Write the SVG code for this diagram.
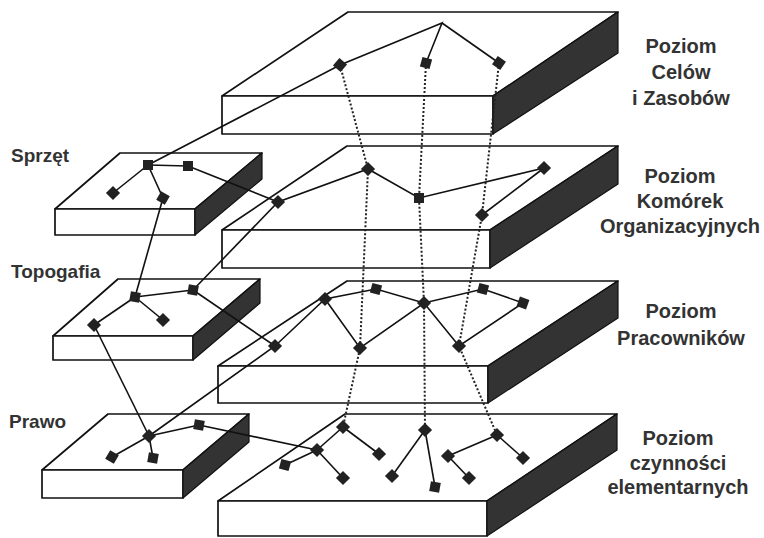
<svg xmlns="http://www.w3.org/2000/svg" width="764" height="538" viewBox="0 0 764 538">
<style>
.top{fill:#fff;stroke:#111;stroke-width:1.7;stroke-linejoin:round}
.side{fill:#333;stroke:#111;stroke-width:1.2;stroke-linejoin:round}
.ln{fill:none;stroke:#111;stroke-width:1.6}
.dot{fill:none;stroke:#222;stroke-width:2;stroke-dasharray:2,2}
.nd{fill:#222}
.lbl{font-family:"Liberation Sans",Arial,sans-serif;font-weight:bold;font-size:20px;fill:#333;text-anchor:middle}
.lbll{font-family:"Liberation Sans",Arial,sans-serif;font-weight:bold;font-size:19px;fill:#333}
</style>
<defs>
<rect id="sq" x="-5" y="-5" width="10" height="10" class="nd"/>
</defs>

<g id="slab-cele">
<polygon class="top" points="348,12 618,12 493,96 222,96"/>
<rect class="top" x="222" y="96" width="271" height="38"/>
<polygon class="side" points="493,96 618,12 618,53 493,134"/>
</g>
<g id="slab-komorki">
<polygon class="top" points="347,146 618,146 490,230 222,230"/>
<rect class="top" x="222" y="230" width="268" height="38"/>
<polygon class="side" points="490,230 618,146 618,184 490,268"/>
</g>
<g id="slab-pracownicy">
<polygon class="top" points="347,281 618,281 488,366 218,366"/>
<rect class="top" x="218" y="366" width="270" height="37"/>
<polygon class="side" points="488,366 618,281 618,318 488,403"/>
</g>
<g id="slab-czynnosci">
<polygon class="top" points="345,414 617,414 487,501 218,501"/>
<rect class="top" x="218" y="501" width="269" height="35"/>
<polygon class="side" points="487,501 617,414 617,450 487,536"/>
</g>
<g id="slab-sprzet">
<polygon class="top" points="120,153 262,153 195,209 55,209"/>
<rect class="top" x="55" y="209" width="140" height="26"/>
<polygon class="side" points="195,209 262,153 262,179 195,235"/>
</g>
<g id="slab-topogafia">
<polygon class="top" points="118,279 260,279 193,336 53,336"/>
<rect class="top" x="53" y="336" width="140" height="24"/>
<polygon class="side" points="193,336 260,279 260,303 193,360"/>
</g>
<g id="slab-prawo">
<polygon class="top" points="108,414 249,414 183,470 42,470"/>
<rect class="top" x="42" y="470" width="141" height="28"/>
<polygon class="side" points="183,470 249,414 249,442 183,498"/>
</g>

<g id="connectors">
<polyline class="ln" points="148,165 340,65 442,23 426,63"/>
<line class="ln" x1="442" y1="23" x2="499" y2="63"/>
<line class="ln" x1="148" y1="165" x2="188" y2="166"/>
<line class="ln" x1="148" y1="165" x2="113" y2="193"/>
<line class="ln" x1="148" y1="165" x2="163" y2="198"/>
<line class="ln" x1="188" y1="166" x2="278" y2="202"/>
<line class="ln" x1="163" y1="198" x2="135" y2="297"/>
<polyline class="ln" points="193,290 278,202 368,169 419,198 544,168 482,215"/>
<line class="ln" x1="135" y1="297" x2="193" y2="290"/>
<line class="ln" x1="135" y1="297" x2="163" y2="320"/>
<line class="ln" x1="135" y1="297" x2="94" y2="325"/>
<line class="ln" x1="193" y1="290" x2="275" y2="346"/>
<line class="ln" x1="94" y1="325" x2="149" y2="436"/>
<polyline class="ln" points="149,436 275,346 325,299 376,289 424,303 483,289 523,303 459,346 424,303 360,348 325,299"/>
<line class="ln" x1="149" y1="436" x2="199" y2="425"/>
<line class="ln" x1="149" y1="436" x2="112" y2="457"/>
<line class="ln" x1="149" y1="436" x2="153" y2="458"/>
<line class="ln" x1="199" y1="425" x2="317" y2="450"/>
<line class="ln" x1="343" y1="427" x2="317" y2="450"/>
<line class="ln" x1="343" y1="427" x2="379" y2="454"/>
<line class="ln" x1="317" y1="450" x2="285" y2="465"/>
<line class="ln" x1="317" y1="450" x2="343" y2="478"/>
<line class="ln" x1="425" y1="430" x2="392" y2="476"/>
<line class="ln" x1="425" y1="430" x2="435" y2="487"/>
<line class="ln" x1="497" y1="435" x2="448" y2="456"/>
<line class="ln" x1="497" y1="435" x2="523" y2="458"/>
<line class="ln" x1="448" y1="456" x2="469" y2="478"/>
<polyline class="dot" points="340,65 368,169 360,348 343,427"/>
<polyline class="dot" points="426,63 419,198 424,303 425,430"/>
<polyline class="dot" points="499,63 482,215 459,346 497,435"/>
</g>

<g id="nodes-cele">
<use href="#sq" transform="translate(340,65) rotate(40)"/>
<use href="#sq" transform="translate(426,63) rotate(15)"/>
<use href="#sq" transform="translate(499,63) rotate(35)"/>
</g>
<g id="nodes-komorki">
<use href="#sq" transform="translate(278,202) rotate(45)"/>
<use href="#sq" transform="translate(368,169) rotate(45)"/>
<use href="#sq" transform="translate(419,198) rotate(0)"/>
<use href="#sq" transform="translate(482,215) rotate(45)"/>
<use href="#sq" transform="translate(544,168) rotate(45)"/>
</g>
<g id="nodes-pracownicy">
<use href="#sq" transform="translate(275,346) rotate(45)"/>
<use href="#sq" transform="translate(325,299) rotate(45)"/>
<use href="#sq" transform="translate(376,289) rotate(15)"/>
<use href="#sq" transform="translate(424,303) rotate(45)"/>
<use href="#sq" transform="translate(483,289) rotate(15)"/>
<use href="#sq" transform="translate(523,303) rotate(20)"/>
<use href="#sq" transform="translate(360,348) rotate(45)"/>
<use href="#sq" transform="translate(459,346) rotate(45)"/>
</g>
<g id="nodes-czynnosci">
<use href="#sq" transform="translate(343,427) rotate(45)"/>
<use href="#sq" transform="translate(317,450) rotate(45)"/>
<use href="#sq" transform="translate(285,465) rotate(15)"/>
<use href="#sq" transform="translate(343,478) rotate(45)"/>
<use href="#sq" transform="translate(379,454) rotate(45)"/>
<use href="#sq" transform="translate(425,430) rotate(45)"/>
<use href="#sq" transform="translate(392,476) rotate(45)"/>
<use href="#sq" transform="translate(435,487) rotate(10)"/>
<use href="#sq" transform="translate(497,435) rotate(45)"/>
<use href="#sq" transform="translate(448,456) rotate(45)"/>
<use href="#sq" transform="translate(469,478) rotate(45)"/>
<use href="#sq" transform="translate(523,458) rotate(45)"/>
</g>
<g id="nodes-sprzet">
<use href="#sq" transform="translate(148,165)"/>
<use href="#sq" transform="translate(188,166)"/>
<use href="#sq" transform="translate(113,193) rotate(45)"/>
<use href="#sq" transform="translate(163,198) rotate(30)"/>
</g>
<g id="nodes-topogafia">
<use href="#sq" transform="translate(135,297) rotate(10)"/>
<use href="#sq" transform="translate(193,290) rotate(10)"/>
<use href="#sq" transform="translate(163,320) rotate(45)"/>
<use href="#sq" transform="translate(94,325) rotate(45)"/>
</g>
<g id="nodes-prawo">
<use href="#sq" transform="translate(149,436) rotate(45)"/>
<use href="#sq" transform="translate(199,425) rotate(10)"/>
<use href="#sq" transform="translate(112,457) rotate(30)"/>
<use href="#sq" transform="translate(153,458) rotate(10)"/>
</g>

<g id="labels">
<text class="lbl" x="681" y="53">Poziom</text>
<text class="lbl" x="681" y="79">Celów</text>
<text class="lbl" x="681" y="105">i Zasobów</text>
<text class="lbl" x="680" y="183">Poziom</text>
<text class="lbl" x="680" y="208">Komórek</text>
<text class="lbl" x="680" y="233">Organizacyjnych</text>
<text class="lbl" x="681" y="318">Poziom</text>
<text class="lbl" x="681" y="345">Pracowników</text>
<text class="lbl" x="678" y="445">Poziom</text>
<text class="lbl" x="678" y="470">czynności</text>
<text class="lbl" x="678" y="494">elementarnych</text>
<text class="lbll" x="11" y="162">Sprzęt</text>
<text class="lbll" x="11" y="278">Topogafia</text>
<text class="lbll" x="9" y="428">Prawo</text>
</g>
</svg>
